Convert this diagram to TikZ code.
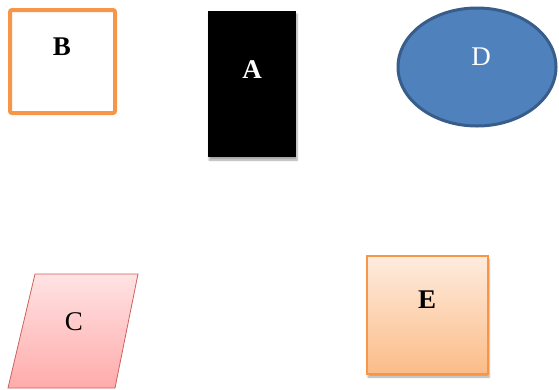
\documentclass[tikz,border=0pt]{standalone}
\usepackage{fontspec}
\setmainfont{Liberation Serif}
\usetikzlibrary{shapes.geometric,shadows.blur}
\definecolor{borange}{HTML}{F79646}
\definecolor{dfill}{HTML}{4F81BD}
\definecolor{dline}{HTML}{385D8A}
\definecolor{ctop}{HTML}{FFE3E3}
\definecolor{cbot}{HTML}{FFABAB}
\definecolor{cline}{HTML}{D0605E}
\definecolor{etop}{HTML}{FEECDE}
\definecolor{ebot}{HTML}{FBBC88}
\tikzset{
  lbl/.style={font=\fontsize{27}{27}\selectfont},
  blbl/.style={font=\fontsize{27}{27}\selectfont\bfseries},
  soft/.style={blur shadow={shadow xshift=1pt,shadow yshift=-3pt,shadow blur steps=6,shadow opacity=35}}
}
\begin{document}
\begin{tikzpicture}[x=1pt,y=-1pt]
\useasboundingbox (0,0) rectangle (559,389);
% B: outlined square
\draw[borange,line width=4pt,rounded corners=2pt,fill=white] (10,10) rectangle (115,113);
\node[blbl] (B) at (62,47) {B};
% A: black box
\fill[black,soft] (208,11) rectangle (296,157);
\node[blbl,text=white] (A) at (252,70) {A};
% D: ellipse
\draw[dline,line width=3pt,fill=dfill] (477,67) ellipse [x radius=79,y radius=59];
\node[lbl,text=white] (D) at (481,57) {D};
% C: parallelogram
\shade[top color=ctop,bottom color=cbot,draw=cline,line width=0.8pt]
  (35,274) -- (138,274) -- (115,388) -- (8,388) -- cycle;
\node[lbl] (C) at (74,322) {C};
% E: shaded square
\shade[top color=etop,bottom color=ebot,draw=borange,line width=1.2pt,soft]
  (367,256) rectangle (488,374);
\node[blbl] (E) at (427,300) {E};
\end{tikzpicture}
\end{document}
